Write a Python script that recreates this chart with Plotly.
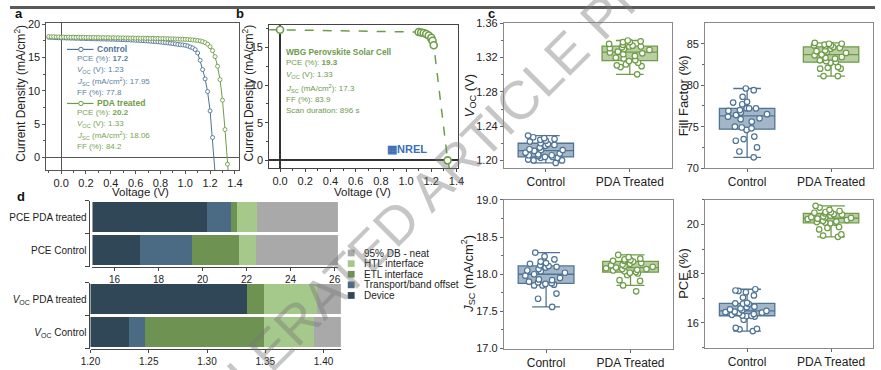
import plotly.graph_objects as go

W, H = 881, 370
FONT = "Liberation Sans, Arial, sans-serif"

# ---------------- data ----------------
# panel a: J-V curves
ctrl_v = [-0.10, -0.08, -0.06, -0.04, -0.02, 0.00, 0.02, 0.04, 0.06, 0.08,
          0.10, 0.12, 0.14, 0.16, 0.18, 0.20, 0.22, 0.24, 0.26, 0.28,
          0.30, 0.32, 0.34, 0.36, 0.38, 0.40, 0.42, 0.44, 0.46, 0.48,
          0.50, 0.52, 0.54, 0.56, 0.58, 0.60, 0.62, 0.64, 0.66, 0.68,
          0.70, 0.72, 0.74, 0.76, 0.78, 0.80, 0.82, 0.84, 0.86, 0.88,
          0.90, 0.92, 0.94, 0.96, 0.98, 1.00, 1.02, 1.04, 1.06, 1.08,
          1.10, 1.12, 1.14, 1.16, 1.18, 1.20, 1.22, 1.24]
ctrl_j = [18.05, 18.03, 18.01, 18.00, 17.97, 17.95, 17.96, 17.93, 17.94, 17.91,
          17.92, 17.89, 17.90, 17.87, 17.88, 17.85, 17.86, 17.83, 17.84, 17.81,
          17.82, 17.79, 17.80, 17.77, 17.78, 17.75, 17.76, 17.73, 17.73, 17.70,
          17.70, 17.67, 17.67, 17.64, 17.63, 17.60, 17.59, 17.56, 17.54, 17.51,
          17.49, 17.46, 17.43, 17.40, 17.37, 17.33, 17.29, 17.25, 17.20, 17.15,
          17.10, 17.05, 16.99, 16.93, 16.90, 16.85, 16.75, 16.60, 16.45, 16.20,
          15.70, 14.60, 13.20, 11.80, 9.90, 7.00, 3.00, -2.30]
pda_v = [-0.10, -0.08, -0.06, -0.04, -0.02, 0.00, 0.02, 0.04, 0.06, 0.08,
         0.10, 0.12, 0.14, 0.16, 0.18, 0.20, 0.22, 0.24, 0.26, 0.28,
         0.30, 0.32, 0.34, 0.36, 0.38, 0.40, 0.42, 0.44, 0.46, 0.48,
         0.50, 0.52, 0.54, 0.56, 0.58, 0.60, 0.62, 0.64, 0.66, 0.68,
         0.70, 0.72, 0.74, 0.76, 0.78, 0.80, 0.82, 0.84, 0.86, 0.88,
         0.90, 0.92, 0.94, 0.96, 0.98, 1.00, 1.02, 1.04, 1.06, 1.08,
         1.10, 1.12, 1.14, 1.16, 1.18, 1.20, 1.22, 1.24, 1.26, 1.28,
         1.30, 1.32, 1.34, 1.36]
pda_j = [18.16, 18.12, 18.14, 18.10, 18.11, 18.06, 18.09, 18.05, 18.08, 18.04,
         18.06, 18.03, 18.07, 18.02, 18.05, 18.01, 18.04, 18.00, 18.03, 17.99,
         18.02, 17.98, 18.01, 17.97, 18.00, 17.96, 17.99, 17.95, 17.98, 17.94,
         17.97, 17.93, 17.96, 17.92, 17.95, 17.91, 17.94, 17.90, 17.93, 17.89,
         17.91, 17.88, 17.90, 17.86, 17.88, 17.85, 17.86, 17.83, 17.84, 17.81,
         17.82, 17.79, 17.79, 17.76, 17.76, 17.73, 17.72, 17.69, 17.66, 17.62,
         17.57, 17.50, 17.40, 17.25, 17.02, 16.65, 16.05, 15.15, 13.70, 11.70,
         8.60, 4.20, -1.00, -5.50]

# panel b: stabilised scan
b_fit_v = [-0.09, 0.00, 1.10, 1.22, 1.33, 1.345]
b_fit_j = [17.36, 17.35, 17.05, 15.30, 0.00, -1.10]
b_v = [0.00, 1.10, 1.12, 1.14, 1.16, 1.18, 1.20, 1.21, 1.22, 1.33]
b_j = [17.35, 17.05, 17.00, 16.92, 16.80, 16.60, 16.30, 15.90, 15.30, 0.00]

# panel c: statistics
groups = ["Control", "PDA Treated"]
voc_ctrl = [1.229, 1.227, 1.226, 1.225, 1.224, 1.223, 1.222, 1.220, 1.219, 1.218,
            1.217, 1.215, 1.213, 1.212, 1.212, 1.211, 1.209, 1.208, 1.207, 1.206,
            1.206, 1.205, 1.204, 1.204, 1.203, 1.203, 1.201, 1.200, 1.200, 1.197]
voc_pda = [1.340, 1.339, 1.338, 1.338, 1.336, 1.335, 1.334, 1.333, 1.333, 1.332,
           1.331, 1.330, 1.329, 1.327, 1.326, 1.325, 1.324, 1.322, 1.320, 1.319,
           1.317, 1.316, 1.314, 1.312, 1.311, 1.310, 1.309, 1.3005]
ff_ctrl = [79.6, 79.4, 78.6, 78.0, 77.9, 77.7, 77.2, 77.2, 77.2, 77.0,
           76.9, 76.7, 76.5, 76.4, 76.2, 76.0, 75.9, 75.6, 75.0, 74.9,
           74.8, 74.6, 73.8, 73.5, 73.3, 72.5, 72.0, 71.3]
ff_pda = [85.1, 85.0, 85.0, 84.9, 84.8, 84.8, 84.7, 84.6, 84.5, 84.4,
          84.2, 84.1, 84.0, 83.9, 83.7, 83.6, 83.4, 83.3, 83.2, 83.0,
          82.9, 82.8, 82.7, 82.2, 82.1, 82.0, 82.0, 81.1, 81.1]
jsc_ctrl = [18.29, 18.24, 18.20, 18.17, 18.15, 18.14, 18.12, 18.11, 18.10, 18.09,
            18.07, 18.05, 18.04, 18.02, 18.00, 17.98, 17.95, 17.93, 17.92, 17.90,
            17.89, 17.88, 17.87, 17.86, 17.85, 17.85, 17.74, 17.67, 17.56]
jsc_pda = [18.26, 18.23, 18.21, 18.20, 18.19, 18.18, 18.18, 18.17, 18.15, 18.14,
           18.13, 18.12, 18.11, 18.10, 18.09, 18.08, 18.07, 18.07, 18.06, 18.05,
           18.04, 18.03, 18.02, 18.01, 17.99, 17.92, 17.91, 17.85, 17.77]
pce_ctrl = [17.37, 17.32, 17.30, 17.25, 17.12, 17.03, 16.82, 16.77, 16.80, 16.78,
            16.66, 16.64, 16.59, 16.55, 16.52, 16.49, 16.46, 16.44, 16.42, 16.40,
            16.36, 16.33, 16.30, 16.29, 16.28, 16.26, 16.13, 15.80, 15.76, 15.74, 15.67]
pce_pda = [20.76, 20.69, 20.60, 20.55, 20.51, 20.50, 20.48, 20.45, 20.42, 20.40,
           20.36, 20.33, 20.30, 20.29, 20.27, 20.24, 20.22, 20.18, 20.15, 20.12,
           20.10, 20.08, 20.07, 20.05, 19.90, 19.86, 19.80, 19.60, 19.55, 19.50]

# panel d: loss breakdown (segment contributions, stacked from 0)
seg_names = ["Device", "Transport/band offset", "ETL interface", "HTL interface", "95% DB - neat"]
pce_cats = ["PCE Control", "PCE PDA treated"]
voc_cats = ["VOC Control", "VOC PDA treated"]
voc_labels = ["<i>V</i><sub>OC</sub> Control", "<i>V</i><sub>OC</sub> PDA treated"]
pce_ctrl_seg = [17.15, 2.37, 2.14, 0.77, 3.72]
pce_pda_seg = [20.20, 1.11, 0.24, 0.91, 3.69]
voc_ctrl_seg = [1.233, 0.014, 0.102, 0.043, 0.023]
voc_pda_seg = [1.334, 0.000, 0.015, 0.045, 0.021]
pce_ticks = [16, 18, 20, 22, 24, 26]
voc_ticks = [1.20, 1.25, 1.30, 1.35, 1.40]

# ---------------- styling ----------------
C_CTRL = "#4f7496"
C_PDA = "#6f9c48"
T_CTRL = "#5b7fa1"
T_PDA = "#78a352"
F_CTRL = "#a3b6c9"
F_PDA = "#b9cfa3"
SEG_COLORS = ["#304757", "#4b6b84", "#6e9251", "#a5c98b", "#a9a9a9"]


def fx(x):
    return x / W


def fy(y):
    return 1 - y / H


def dx(a, b):
    return [fx(a), fx(b)]


def dy(top, bot):
    return [fy(bot), fy(top)]


fig = go.Figure()

# ---- panel a ----
fig.add_trace(go.Scatter(x=ctrl_v, y=ctrl_j, mode="lines+markers", xaxis="x", yaxis="y",
                         line=dict(color=C_CTRL, width=1),
                         marker=dict(size=4, color="white", line=dict(color=C_CTRL, width=0.9)),
                         showlegend=False))
fig.add_trace(go.Scatter(x=pda_v, y=pda_j, mode="lines+markers", xaxis="x", yaxis="y",
                         line=dict(color=C_PDA, width=1),
                         marker=dict(size=4, color="white", line=dict(color=C_PDA, width=0.9)),
                         showlegend=False))

# ---- panel b ----
fig.add_trace(go.Scatter(x=b_fit_v, y=b_fit_j, mode="lines", xaxis="x2", yaxis="y2",
                         line=dict(color=C_PDA, width=1.5, dash="dash"), showlegend=False))
fig.add_trace(go.Scatter(x=b_v, y=b_j, mode="markers", xaxis="x2", yaxis="y2",
                         marker=dict(size=7, color="white", line=dict(color=C_PDA, width=1.6)),
                         showlegend=False))

# ---- panel c ----
box_sets = [(voc_ctrl, voc_pda, "x3", "y3"), (ff_ctrl, ff_pda, "x4", "y4"),
            (jsc_ctrl, jsc_pda, "x5", "y5"), (pce_ctrl, pce_pda, "x6", "y6")]
for vc, vp, xa, ya in box_sets:
    for vals, name, lc, fc in [(vc, groups[0], C_CTRL, F_CTRL), (vp, groups[1], C_PDA, F_PDA)]:
        fig.add_trace(go.Box(x=[name] * len(vals), y=vals, xaxis=xa, yaxis=ya, name=name,
                             boxpoints="all", jitter=0.9, pointpos=0, width=0.66,
                             whiskerwidth=0.5, fillcolor=fc,
                             line=dict(color=lc, width=1.3),
                             marker=dict(size=5.5, color="white", line=dict(color=lc, width=1.2)),
                             showlegend=False, hoverinfo="skip"))

# ---- panel d ----
for k, nm in enumerate(seg_names):
    fig.add_trace(go.Bar(y=pce_cats, x=[pce_ctrl_seg[k], pce_pda_seg[k]], orientation="h",
                         xaxis="x7", yaxis="y7", width=0.91, name=nm,
                         marker=dict(color=SEG_COLORS[k], line=dict(width=0)), showlegend=False))
    fig.add_trace(go.Bar(y=voc_cats, x=[voc_ctrl_seg[k], voc_pda_seg[k]], orientation="h",
                         xaxis="x8", yaxis="y8", width=0.91, name=nm,
                         marker=dict(color=SEG_COLORS[k], line=dict(width=0)), showlegend=False))

TICKF = dict(family=FONT, size=11, color="#222")

def jv_x(dom, rng, anchor, lc):
    return dict(domain=dom, range=rng, anchor=anchor, showgrid=False, showline=True, linecolor=lc,
                linewidth=1, mirror=True, ticks="outside", ticklen=3, tickcolor=lc,
                tickvals=[0, 0.2, 0.4, 0.6, 0.8, 1.0, 1.2, 1.4], ticktext=["0.0", "0.2", "0.4", "0.6", "0.8", "1.0", "1.2", "1.4"],
                minor=dict(ticks="outside", ticklen=2, dtick=0.1, tick0=0, tickcolor=lc),
                zeroline=True, tickfont=TICKF)

layout = dict(width=W, height=H, margin=dict(l=0, r=0, t=0, b=0),
              paper_bgcolor="white", plot_bgcolor="white", barmode="stack",
              font=dict(family=FONT, color="#222"), showlegend=False)

# panel a axes
layout["xaxis"] = jv_x(dx(37, 233), [-0.119, 1.431], "y", "#555")
layout["xaxis"].update(zerolinecolor="#555", zerolinewidth=1)
layout["yaxis"] = dict(domain=dy(18, 170), range=[-1.88, 20.14], anchor="x", showgrid=False,
                       showline=True, linecolor="#555", mirror=True, ticks="outside", ticklen=3,
                       tickcolor="#555", tickvals=[0, 5, 10, 15, 20],
                       minor=dict(ticks="outside", ticklen=2, dtick=2.5, tick0=0, tickcolor="#555"),
                       zeroline=True, zerolinecolor="#555", zerolinewidth=1, tickfont=TICKF)
layout["xaxis9"] = dict(overlaying="x", anchor="y", side="top", range=[-0.119, 1.431],
                        showgrid=False, showline=False, zeroline=False, showticklabels=False,
                        ticks="inside", ticklen=3, tickcolor="#555", dtick=0.2, tick0=0,
                        minor=dict(ticks="inside", ticklen=2, dtick=0.1, tick0=0, tickcolor="#555"))
# panel b axes
layout["xaxis2"] = jv_x(dx(264, 456), [-0.086, 1.41], "y2", "#444")
layout["xaxis2"].update(zerolinecolor="#333", zerolinewidth=1.5)
layout["yaxis2"] = dict(domain=dy(20, 168), range=[-1.03, 17.95], anchor="x2", showgrid=False,
                        showline=True, linecolor="#444", mirror=True, ticks="outside", ticklen=3,
                        tickcolor="#444", tickvals=[0, 5, 10, 15],
                        minor=dict(ticks="outside", ticklen=2, dtick=2.5, tick0=0, tickcolor="#444"),
                        zeroline=True, zerolinecolor="#333", zerolinewidth=1.5, tickfont=TICKF)
layout["xaxis10"] = dict(overlaying="x2", anchor="y2", side="top", range=[-0.086, 1.41],
                         showgrid=False, showline=False, zeroline=False, showticklabels=False,
                         ticks="inside", ticklen=3, tickcolor="#444", dtick=0.2, tick0=0,
                         minor=dict(ticks="inside", ticklen=2, dtick=0.1, tick0=0, tickcolor="#444"))

# panel c axes
def box_x(dom, anchor):
    return dict(domain=dom, anchor=anchor, type="category", categoryorder="array",
                categoryarray=groups, range=[-0.5, 1.5], showgrid=False, showline=True,
                linecolor="#8a8a8a", mirror=True, ticks="outside", ticklen=3, tickcolor="#666",
                tickfont=dict(family=FONT, size=12, color="#222"))

def box_y(dom, anchor, rng, tv, minor_dt, fmt):
    return dict(domain=dom, anchor=anchor, range=rng, showgrid=False, showline=True,
                linecolor="#8a8a8a", mirror=True, ticks="outside", ticklen=3, tickcolor="#666",
                tickvals=tv, tickformat=fmt, zeroline=False,
                minor=dict(ticks="outside", ticklen=2, dtick=minor_dt, tick0=tv[0], tickcolor="#666"),
                tickfont=TICKF)

layout["xaxis3"] = box_x(dx(503, 674), "y3")
layout["yaxis3"] = box_y(dy(18, 168), "x3", [1.191, 1.36], [1.20, 1.24, 1.28, 1.32, 1.36], 0.02, ".2f")
layout["xaxis4"] = box_x(dx(708, 879), "y4")
layout["yaxis4"] = box_y(dy(18, 168), "x4", [70, 87.46], [70, 75, 80, 85], 2.5, "d")
layout["xaxis5"] = box_x(dx(503, 675), "y5")
layout["yaxis5"] = box_y(dy(201, 355), "x5", [17, 19], [17.0, 17.5, 18.0, 18.5, 19.0], 0.25, ".1f")
layout["xaxis6"] = box_x(dx(708, 879), "y6")
layout["yaxis6"] = box_y(dy(201, 354), "x6", [15, 21], [16, 18, 20], 1, "d")

# panel d axes
DTF = dict(family=FONT, size=10, color="#222")
layout["xaxis7"] = dict(domain=dx(84, 334), anchor="y7", range=[15, 26.15], showgrid=False,
                        showline=True, linecolor="#444", ticks="outside", ticklen=3, tickcolor="#444",
                        tickvals=pce_ticks, tickfont=DTF, zeroline=False)
layout["yaxis7"] = dict(domain=dy(202, 270), anchor="free", position=fx(80), type="category",
                        categoryorder="array", categoryarray=pce_cats, range=[-0.5, 1.5],
                        showline=True, linecolor="#444", ticks="outside", ticklen=4, tickcolor="#444",
                        tickson="boundaries", showgrid=False, tickfont=DTF)
layout["xaxis8"] = dict(domain=dx(82, 337), anchor="y8", range=[1.2, 1.4149], showgrid=False,
                        showline=True, linecolor="#444", ticks="outside", ticklen=3, tickcolor="#444",
                        tickvals=voc_ticks, tickformat=".2f", tickfont=DTF, zeroline=False)
layout["yaxis8"] = dict(domain=dy(287, 355), anchor="free", position=fx(80), type="category",
                        categoryorder="array", categoryarray=voc_cats, range=[-0.5, 1.5],
                        tickvals=voc_cats, ticktext=voc_labels,
                        showline=True, linecolor="#444", ticks="outside", ticklen=4, tickcolor="#444",
                        tickson="boundaries", showgrid=False, tickfont=DTF)

fig.update_layout(**layout)

# ---------------- annotations ----------------
ann = []
shapes = []

def txt(x, y, s, size, color="#222", xanchor="left", angle=0, yanchor="middle"):
    ann.append(dict(x=fx(x), y=fy(y), xref="paper", yref="paper", text=s, showarrow=False,
                    xanchor=xanchor, yanchor=yanchor, textangle=angle,
                    font=dict(family=FONT, size=size, color=color)))

# panel letters
for lab, x, y in [("a", 9, 8), ("b", 234, 8), ("c", 490, 8), ("d", 11, 197)]:
    txt(x, y, "<b>%s</b>" % lab, 13, "#111", xanchor="center")

# axis titles
cd = "Current Density (mA/cm<sup>2</sup>)"
txt(10, 90, cd, 12, xanchor="center", angle=-90)
txt(242, 90, cd, 12, xanchor="center", angle=-90)
txt(133, 193, "Voltage (V)", 11.5, xanchor="center")
txt(359, 193, "Voltage (V)", 11.5, xanchor="center")
txt(469, 93, "<i>V</i><sub>OC</sub> (V)", 13, xanchor="center", angle=-90)
txt(686, 93, "Fill Factor (%)", 13, xanchor="center", angle=-90)
txt(467, 278, "<i>J</i><sub>SC</sub> (mA/cm<sup>2</sup>)", 13, xanchor="center", angle=-90)
txt(686, 277, "PCE (%)", 13, xanchor="center", angle=-90)

# panel a inset legend & parameters
TS = 8
for (yy, col, tcol, title, lines) in [
        (45, C_CTRL, T_CTRL, "Control",
         ["PCE (%): <b>17.2</b>", "<i>V</i><sub>OC</sub> (V): 1.23",
          "<i>J</i><sub>SC</sub> (mA/cm<sup>2</sup>): 17.95", "FF (%): 77.8"]),
        (101, C_PDA, T_PDA, "PDA treated",
         ["PCE (%): <b>20.2</b>", "<i>V</i><sub>OC</sub> (V): 1.33",
          "<i>J</i><sub>SC</sub> (mA/cm<sup>2</sup>): 18.06", "FF (%): 84.2"])]:
    shapes.append(dict(type="line", xref="paper", yref="paper", x0=fx(58), x1=fx(85), y0=fy(yy), y1=fy(yy),
                       line=dict(color=col, width=1.2)))
    shapes.append(dict(type="circle", xref="paper", yref="paper", x0=fx(70), x1=fx(74.5),
                       y0=fy(yy + 2.25), y1=fy(yy - 2.25), fillcolor="white", line=dict(color=col, width=1)))
    txt(87, yy, "<b>%s</b>" % title, TS + 0.5, col)
    for i, s in enumerate(lines):
        txt(66, yy + 9.5 + 11.8 * i, s, TS, tcol)

# panel b text
B_T = "#6e9b4c"
txt(279, 48, "<b>WBG Perovskite Solar Cell</b>", TS + 0.3, B_T)
for s, yy in [("PCE (%): <b>19.3</b>", 59), ("<i>V</i><sub>OC</sub> (V): 1.33", 71),
              ("<i>J</i><sub>SC</sub> (mA/cm<sup>2</sup>): 17.3", 85), ("FF (%): 83.9", 97),
              ("Scan duration: 896 s", 108)]:
    txt(279, yy, s, TS, B_T)
txt(404, 148, "<b>▦NREL</b>", 11, "#3a6fb5", xanchor="center")

# panel d legend
leg = list(zip(seg_names, SEG_COLORS))[::-1]
for i, (nm, col) in enumerate(leg):
    yy = 256 + 11 * i
    shapes.append(dict(type="rect", xref="paper", yref="paper", x0=fx(344), x1=fx(351),
                       y0=fy(yy + 3.5), y1=fy(yy - 3.5), fillcolor=col, line=dict(width=0)))
    txt(359, yy, nm, 10)

# top strip
shapes.append(dict(type="rect", xref="paper", yref="paper", x0=0, x1=1, y0=fy(3), y1=1,
                   fillcolor="#5a5a5a", line=dict(width=0), layer="above"))

# watermark
ann.append(dict(x=fx(446), y=fy(171), xref="paper", yref="paper",
                text="ACCELERATED ARTICLE PREVIEW", showarrow=False, textangle=-45,
                xanchor="center", yanchor="middle",
                font=dict(family=FONT, size=54, color="rgba(120,120,120,0.42)")))

fig.update_layout(annotations=ann, shapes=shapes)
fig.write_html("out.html", config={"displayModeBar": False},
               post_script="document.body.style.margin='0px';document.body.style.overflow='hidden';")
